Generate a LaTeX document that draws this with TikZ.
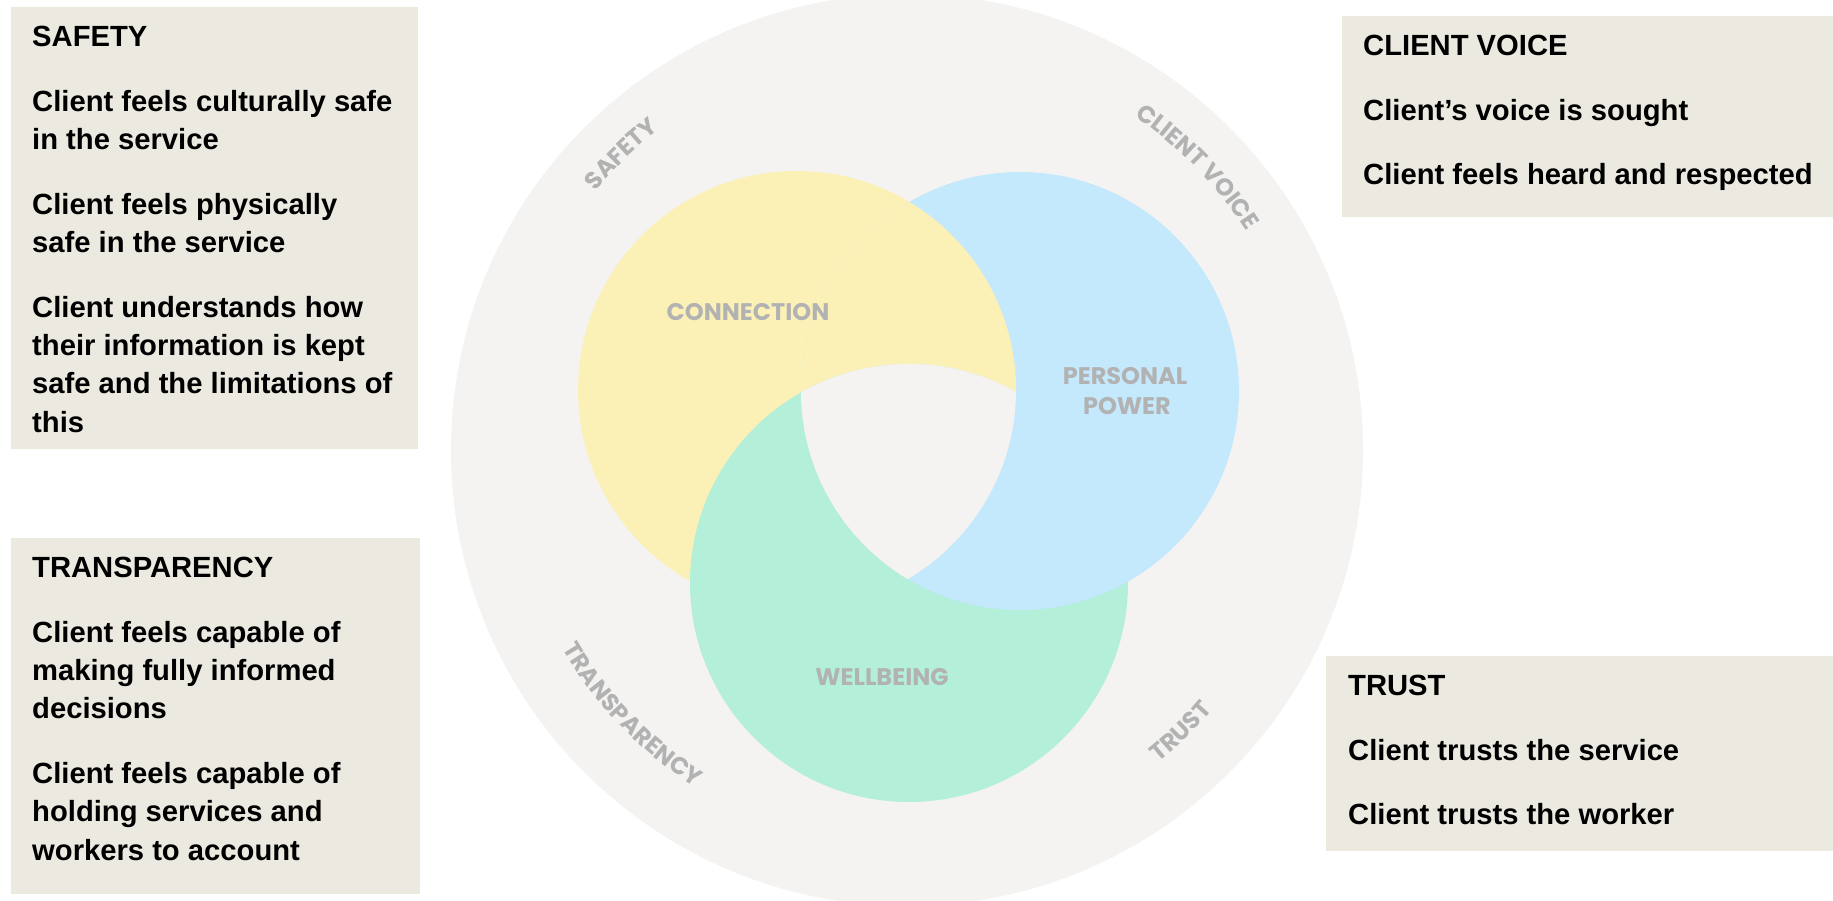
\documentclass[tikz,border=0pt]{standalone}
\usepackage{fontspec}
\setmainfont{Liberation Sans}
\newfontfamily\lblfont{Poppins}
\usetikzlibrary{decorations.text}
\definecolor{bgc}{HTML}{F4F3F1}
\definecolor{yel}{HTML}{FBF1B6}
\definecolor{blu}{HTML}{C4E8FC}
\definecolor{grn}{HTML}{B4EFD9}
\definecolor{boxc}{HTML}{ECEAE0}
\definecolor{lbl}{HTML}{B2B2B2}
\tikzset{
  box/.style={fill=boxc, draw=none, anchor=north west, inner sep=0pt},
  boxtext/.style={font=\bfseries\fontsize{29.2}{38.3}\selectfont, align=left, anchor=north west, inner sep=0pt, text=black},
  lbl/.style={font=\lblfont\bfseries\fontsize{24}{30}\selectfont, text=lbl, inner sep=0pt, anchor=base},
  arclbl/.style={decorate, decoration={text along path, text align=center, text={|\lblfont\bfseries\fontsize{24}{30}\selectfont\color{lbl}|#1}}}
}
\begin{document}
\begin{tikzpicture}[x=1pt,y=1pt]
\useasboundingbox (0,0) rectangle (1833,-901);
\clip (0,0) rectangle (1833,-901);
\fill[white] (0,0) rectangle (1833,-901);
% centres
\coordinate (C) at (907,-450);
\coordinate (Y) at (797,-390);
\coordinate (B) at (1020,-391);
\coordinate (G) at (909,-583);
% outer disc
\fill[bgc] (C) circle[radius=456];
% three rings
\fill[yel] (Y) circle[radius=219];
\fill[blu] (B) circle[radius=219];
\fill[grn] (G) circle[radius=219];
\begin{scope}
  \clip (Y) circle[radius=219];
  \fill[yel] (B) circle[radius=219];
\end{scope}
\begin{scope}
  \clip (B) circle[radius=219];
  \fill[blu] (G) circle[radius=219];
\end{scope}
\begin{scope}
  \clip (Y) circle[radius=219];
  \clip (B) circle[radius=219];
  \fill[bgc] (G) circle[radius=219];
\end{scope}
% inner labels
\node[lbl] (conn) at (748,-320) {CONNECTION};
\node[lbl] (pers) at (1125,-384) {PERSONAL};
\node[lbl] (powr) at (1127,-414) {POWER};
\node[lbl] (well) at (882,-685) {WELLBEING};
% curved labels
\path[arclbl=SAFETY] ([shift={(160:405)}]C) arc[start angle=160, end angle=108, radius=405];
\path[arclbl=CLIENT VOICE] ([shift={(70.25:404)}]C) arc[start angle=70.25, end angle=18.25, radius=404];
\path[arclbl=TRANSPARENCY] ([shift={(193.9:398)}]C) arc[start angle=193.9, end angle=253.9, radius=398];
\path[arclbl=TRUST] ([shift={(-70:401)}]C) arc[start angle=-70, end angle=-21.6, radius=401];
% boxes
\node[box, minimum width=407pt, minimum height=442pt] (sbox) at (11,-7) {};
\node[box, minimum width=409pt, minimum height=356pt] (tbox) at (11,-538) {};
\node[box, minimum width=500pt, minimum height=201pt] (cbox) at (1342,-16) {};
\node[box, minimum width=515pt, minimum height=195pt] (rbox) at (1326,-656) {};
\node[boxtext] (stxt) at (32,-19.2) {\strut SAFETY\\[26.5pt]
Client feels culturally safe\\in the service\\[26.5pt]
Client feels physically\\safe in the service\\[26.5pt]
Client understands how\\their information is kept\\safe and the limitations of\\this};
\node[boxtext] (ttxt) at (32,-550.2) {\strut TRANSPARENCY\\[26.5pt]
Client feels capable of\\making fully informed\\decisions\\[26.5pt]
Client feels capable of\\holding services and\\workers to account};
\node[boxtext] (ctxt) at (1363,-28.2) {\strut CLIENT VOICE\\[26.5pt]
Client’s voice is sought\\[26.5pt]
Client feels heard and respected};
\node[boxtext] (rtxt) at (1348,-668.2) {\strut TRUST\\[26.5pt]
Client trusts the service\\[26.5pt]
Client trusts the worker};
\end{tikzpicture}
\end{document}
